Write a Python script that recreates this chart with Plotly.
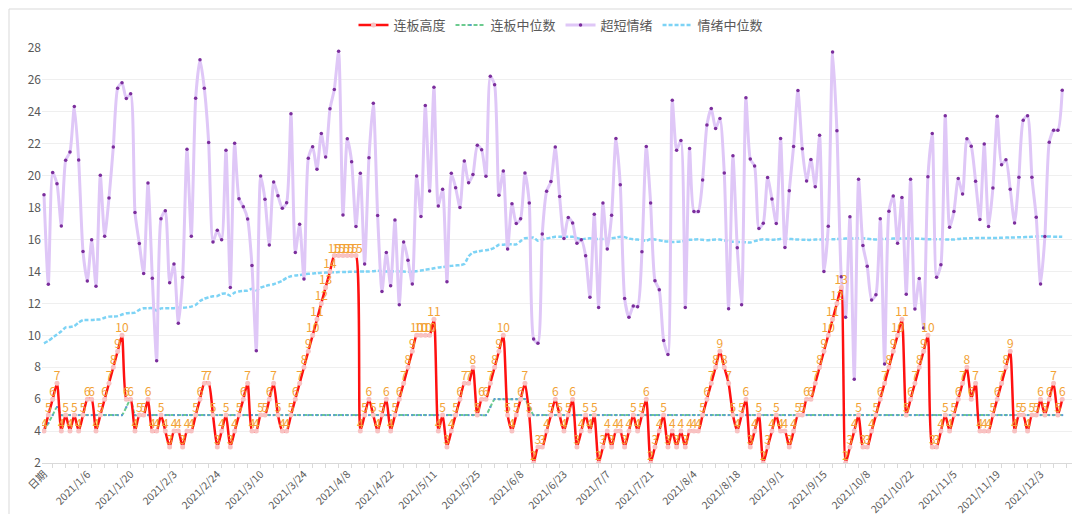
import plotly.graph_objects as go

# 连板高度 / 超短情绪 daily readings, 236 trading days
lb_height = [4, 5, 6, 7, 4, 5, 4, 5, 4, 5, 6, 6, 4, 5, 6, 7, 8, 9, 10, 6,
             6, 4, 5, 5, 6, 4, 4, 5, 4, 3, 4, 4, 3, 4, 4, 5, 6, 7, 7, 5,
             3, 4, 5, 3, 4, 5, 6, 7, 4, 4, 5, 5, 6, 7, 5, 4, 4, 5, 6, 7,
             8, 9, 10, 11, 12, 13, 14, 15, 15, 15, 15, 15, 15, 4, 5, 6, 5, 4, 5, 6,
             4, 5, 6, 7, 8, 9, 10, 10, 10, 10, 11, 4, 5, 3, 4, 5, 6, 7, 7, 8,
             5, 6, 6, 7, 8, 9, 10, 5, 4, 5, 6, 7, 5, 2, 3, 3, 4, 5, 6, 5,
             4, 5, 6, 3, 4, 5, 4, 5, 2, 3, 4, 3, 4, 4, 3, 4, 5, 4, 5, 6,
             2, 3, 4, 5, 3, 4, 3, 4, 3, 4, 4, 4, 5, 6, 7, 8, 9, 8, 7, 5,
             4, 5, 6, 3, 4, 5, 2, 3, 4, 5, 4, 4, 3, 4, 5, 5, 6, 6, 7, 8,
             9, 10, 11, 12, 13, 2, 3, 4, 5, 3, 3, 4, 5, 6, 7, 8, 9, 10, 11, 5,
             6, 7, 8, 9, 10, 3, 3, 4, 5, 4, 5, 6, 7, 8, 6, 7, 4, 4, 4, 5,
             6, 7, 8, 9, 4, 5, 5, 4, 5, 5, 6, 5, 6, 7, 5, 6]

lb_median = [4, 4.5, 5, 5.5, 5, 5, 5, 5, 5, 5, 5, 5, 5, 5, 5, 5, 5, 5, 5, 5.5,
             6, 5, 5, 5, 5, 5, 5, 5, 5, 5, 5, 5, 5, 5, 5, 5, 5, 5, 5, 5,
             5, 5, 5, 5, 5, 5, 5, 5, 5, 5, 5, 5, 5, 5, 5, 5, 5, 5, 5, 5,
             5, 5, 5, 5, 5, 5, 5, 5, 5, 5, 5, 5, 5, 5, 5, 5, 5, 5, 5, 5,
             5, 5, 5, 5, 5, 5, 5, 5, 5, 5, 5, 5, 5, 5, 5, 5, 5, 5, 5, 5,
             5, 5, 5, 5.5, 6, 6, 6, 6, 6, 6, 6, 6, 5.5, 5, 5, 5, 5, 5, 5, 5,
             5, 5, 5, 5, 5, 5, 5, 5, 5, 5, 5, 5, 5, 5, 5, 5, 5, 5, 5, 5,
             5, 5, 5, 5, 5, 5, 5, 5, 5, 5, 5, 5, 5, 5, 5, 5, 5, 5, 5, 5,
             5, 5, 5, 5, 5, 5, 5, 5, 5, 5, 5, 5, 5, 5, 5, 5, 5, 5, 5, 5,
             5, 5, 5, 5, 5, 5, 5, 5, 5, 5, 5, 5, 5, 5, 5, 5, 5, 5, 5, 5,
             5, 5, 5, 5, 5, 5, 5, 5, 5, 5, 5, 5, 5, 5, 5, 5, 5, 5, 5, 5,
             5, 5, 5, 5, 5, 5, 5, 5, 5, 5, 5, 5, 5, 5, 5, 5]

sentiment = [18.8, 13.2, 20.2, 19.5, 16.85, 20.96, 21.48, 24.33, 20.98, 15.25,
             13.4, 15.98, 13.08, 20.02, 16.2, 18.6, 21.8, 25.48, 25.83, 24.83,
             25.13, 17.69, 15.75, 13.88, 19.54, 13.58, 8.4, 17.3, 17.81, 13.29,
             14.46, 10.75, 13.63, 21.65, 16.2, 24.85, 27.27, 25.48, 22.08, 15.85,
             16.58, 15.98, 21.6, 13.0, 22.04, 18.56, 18.06, 17.29, 14.38, 9.04,
             19.98, 18.52, 15.65, 19.6, 18.75, 17.96, 18.31, 23.88, 15.19, 16.96,
             13.52, 21.1, 21.81, 20.4, 22.65, 21.17, 24.19, 25.4, 27.79, 17.54,
             22.31, 20.88, 16.81, 20.15, 14.46, 21.13, 24.54, 17.5, 12.75, 15.19,
             13.1, 17.23, 11.92, 15.85, 14.71, 13.21, 19.98, 17.44, 24.4, 19.04,
             25.54, 18.1, 19.15, 13.35, 20.15, 19.25, 18.0, 20.92, 19.56, 20.08,
             21.9, 21.63, 19.96, 26.23, 25.69, 18.77, 20.29, 15.4, 18.25, 17.0,
             17.31, 20.17, 18.29, 9.77, 9.5, 16.35, 19.02, 19.63, 21.79, 18.69,
             16.06, 17.38, 17.04, 15.77, 15.98, 14.98, 12.38, 17.58, 11.75, 18.29,
             15.4, 17.52, 22.33, 19.44, 12.31, 11.13, 11.83, 11.79, 15.23, 21.83,
             18.29, 13.42, 12.85, 9.67, 8.79, 24.73, 21.6, 22.21, 11.75, 21.71,
             17.75, 17.75, 19.73, 23.17, 24.21, 22.96, 23.58, 20.17, 11.67, 21.25,
             15.48, 11.92, 24.88, 21.04, 20.6, 16.69, 17.02, 19.88, 18.54, 17.0,
             22.33, 15.5, 19.06, 21.83, 25.33, 21.69, 19.67, 21.02, 19.31, 22.54,
             14.0, 16.83, 27.75, 22.81, 13.67, 11.13, 17.42, 7.25, 19.77, 15.63,
             14.33, 12.21, 12.54, 17.31, 8.21, 17.77, 18.73, 15.77, 18.63, 12.58,
             19.77, 11.65, 13.56, 10.46, 19.94, 22.65, 13.63, 14.42, 23.75, 16.77,
             17.75, 19.83, 18.85, 22.31, 21.85, 19.65, 17.25, 21.98, 16.81, 19.23,
             23.73, 20.69, 21.0, 19.15, 17.04, 19.9, 23.48, 23.75, 19.9, 17.4,
             13.21, 16.19, 22.1, 22.85, 22.85, 25.35]

sent_median = [9.5, 9.65, 9.85, 10.05, 10.25, 10.5, 10.52, 10.58, 10.8, 10.96,
               10.96, 10.96, 10.98, 11.0, 11.1, 11.17, 11.18, 11.2, 11.3, 11.38,
               11.4, 11.42, 11.6, 11.69, 11.7, 11.7, 11.54, 11.69, 11.7, 11.7,
               11.7, 11.72, 11.72, 11.75, 11.8, 11.9, 12.15, 12.3, 12.38, 12.45,
               12.46, 12.6, 12.62, 12.48, 12.68, 12.75, 12.78, 12.8, 12.92, 12.82,
               12.98, 13.08, 13.15, 13.2, 13.3, 13.42, 13.6, 13.7, 13.75, 13.78,
               13.82, 13.85, 13.87, 13.9, 13.92, 13.93, 13.94, 13.95, 13.96, 13.96,
               13.97, 13.98, 13.98, 14.0, 14.0, 14.0, 14.02, 14.04, 14.02, 14.0,
               14.0, 14.02, 14.0, 13.99, 13.98, 13.98, 14.02, 14.06, 14.1, 14.15,
               14.2, 14.25, 14.28, 14.32, 14.35, 14.38, 14.4, 14.46, 14.95, 15.19,
               15.25, 15.3, 15.33, 15.38, 15.5, 15.67, 15.68, 15.7, 15.7, 15.7,
               15.9, 16.08, 16.1, 16.12, 15.92, 16.0, 16.06, 16.12, 16.17, 16.17,
               16.17, 16.17, 16.17, 16.1, 16.02, 16.05, 16.08, 16.02, 16.03, 16.04,
               16.04, 16.08, 16.12, 16.17, 16.15, 16.06, 16.02, 16.0, 15.98, 15.92,
               16.04, 16.0, 15.96, 15.9, 15.87, 15.85, 15.86, 15.88, 15.92, 15.98,
               16.0, 16.02, 15.98, 15.96, 15.98, 16.0, 16.0, 15.95, 15.88, 15.86,
               15.85, 15.85, 15.83, 15.81, 15.9, 15.98, 16.02, 16.0, 15.98, 16.0,
               16.04, 16.06, 16.04, 16.02, 16.0, 15.99, 15.98, 15.98, 16.0, 16.0,
               16.0, 16.02, 16.02, 16.03, 16.04, 16.06, 16.06, 16.07, 16.08, 16.08,
               16.05, 16.02, 16.0, 16.02, 16.04, 16.05, 16.06, 16.06, 16.06, 16.06,
               16.06, 16.06, 16.05, 16.04, 16.02, 16.02, 16.02, 16.02, 16.01, 16.0,
               16.0, 16.04, 16.06, 16.07, 16.08, 16.1, 16.1, 16.1, 16.1, 16.1,
               16.1, 16.11, 16.12, 16.12, 16.13, 16.14, 16.15, 16.16, 16.17, 16.19,
               16.2, 16.2, 16.19, 16.18, 16.18, 16.17]

# x tick labels, one every 10 trading days
tick_labels = ['日期', '2021/1/6', '2021/1/20', '2021/2/3', '2021/2/24', '2021/3/10',
               '2021/3/24', '2021/4/8', '2021/4/22', '2021/5/11', '2021/5/25', '2021/6/8',
               '2021/6/23', '2021/7/7', '2021/7/21', '2021/8/4', '2021/8/18', '2021/9/1',
               '2021/9/15', '2021/10/8', '2021/10/22', '2021/11/5', '2021/11/19', '2021/12/3']

x = list(range(len(lb_height)))
tick_pos = [i * 10 for i in range(len(tick_labels))]

font_cn = "Noto Sans CJK SC, Microsoft YaHei, sans-serif"
grey = "#595959"

fig = go.Figure()

# draw order: blue, green, purple, red on top
fig.add_trace(go.Scatter(x=x, y=sent_median, name='情绪中位数', mode='lines',
                         line=dict(color='#7DD3F5', width=2.5, dash='4px,2px', shape='spline', smoothing=0.6),
                         legendrank=4))
fig.add_trace(go.Scatter(x=x, y=lb_median, name='连板中位数', mode='lines+markers',
                         line=dict(color='#6CCB8F', width=2, dash='4px,2px', shape='spline', smoothing=0.6),
                         marker=dict(symbol='square', size=2, color='#5B9BD5'),
                         legendrank=2))
fig.add_trace(go.Scatter(x=x, y=sentiment, name='超短情绪', mode='lines+markers',
                         line=dict(color='#DFC7F7', width=3, shape='spline', smoothing=0.6),
                         marker=dict(size=3.5, color='#7B2E9C'),
                         legendrank=3))
fig.add_trace(go.Scatter(x=x, y=lb_height, name='连板高度', mode='lines+markers',
                         line=dict(color='#FF1010', width=2.5, shape='spline', smoothing=0.6),
                         marker=dict(size=5, color='#F8C2C2'),
                         legendrank=1))
# data labels for 连板高度
fig.add_trace(go.Scatter(x=x, y=lb_height, mode='text', text=[str(v) for v in lb_height],
                         textposition='top center', showlegend=False, hoverinfo='skip',
                         textfont=dict(color='#F2A235', size=12, family=font_cn)))

fig.update_layout(
    width=1080, height=514,
    margin=dict(l=34, r=8, t=40, b=59, autoexpand=False),
    paper_bgcolor='white', plot_bgcolor='white',
    font=dict(family=font_cn, size=12, color=grey),
    legend=dict(orientation='h', x=0.5, xanchor='center', yref='container',
                y=1 - 17 / 514, yanchor='middle',
                font=dict(size=13, color=grey), traceorder='normal'),
    showlegend=True,
)
fig.update_xaxes(range=[-0.46, 239.1], tickmode='array', tickvals=tick_pos, ticktext=tick_labels,
                 tickangle=-45, showgrid=False, zeroline=False, showline=True,
                 linecolor='#D9D9D9', linewidth=1, ticks='',
                 tickfont=dict(size=10.5, color=grey),
                 minor=dict(dtick=3, tick0=2, ticks='outside', ticklen=4, tickcolor='#D9D9D9'))
fig.update_yaxes(range=[2, 28], dtick=2, showgrid=True, gridcolor='#EFEFEF', zeroline=False,
                 showline=False, tickfont=dict(size=12, color=grey))

# outer frame of the chart area
fig.add_shape(type='rect', xref='paper', yref='paper',
              x0=-33 / 1038, x1=1 + 7 / 1038, y0=-58 / 415, y1=1 + 39 / 415,
              line=dict(color='#D9D9D9', width=1))

fig.write_html("out.html")
